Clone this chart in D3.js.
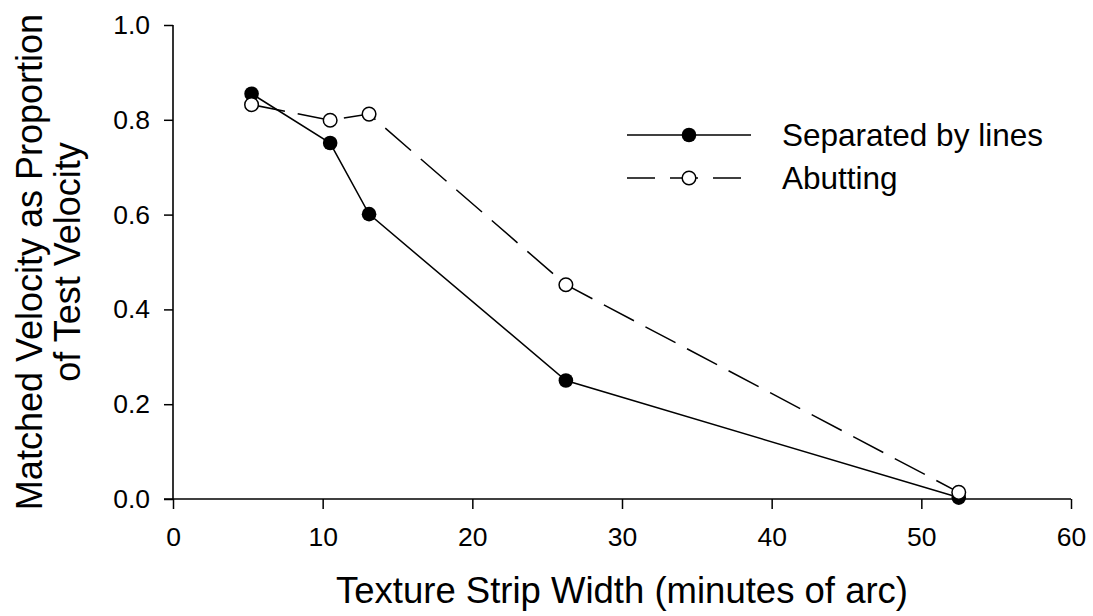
<!DOCTYPE html>
<html>
<head>
<meta charset="utf-8">
<script src="https://cdn.jsdelivr.net/npm/d3@7"></script>
<style>
  body { margin: 0; background: #fff; }
  svg { display: block; font-family: Arial, "Liberation Sans", sans-serif; }
</style>
</head>
<body>
<svg width="1093" height="616"></svg>
<script>
// Data
var stripWidth = [5.25, 10.5, 13.1, 26.25, 52.5];
var separated  = [0.855, 0.751, 0.601, 0.250, 0.003];
var abutting   = [0.832, 0.799, 0.812, 0.452, 0.014];
var xTicks = [0, 10, 20, 30, 40, 50, 60];
var yTicks = [0, 0.2, 0.4, 0.6, 0.8, 1.0];
var seriesNames = ["Separated by lines", "Abutting"];

var svg = d3.select("svg"),
    margin = {top: 25, right: 22, bottom: 117, left: 173},
    width = +svg.attr("width") - margin.left - margin.right,
    height = +svg.attr("height") - margin.top - margin.bottom;

var g = svg.append("g")
    .attr("transform", "translate(" + margin.left + "," + margin.top + ")");

var x = d3.scaleLinear().domain([0, 60]).range([0, width]);
var y = d3.scaleLinear().domain([0, 1]).range([height, 0]);

var line = d3.line()
    .x(function(d) { return x(d[0]); })
    .y(function(d) { return y(d[1]); });

// axes
var xAxis = g.append("g")
    .attr("transform", "translate(0," + height + ")")
    .call(d3.axisBottom(x).tickValues(xTicks).tickSize(10).tickPadding(18)
          .tickFormat(d3.format("d")));
var yAxis = g.append("g")
    .call(d3.axisLeft(y).tickValues(yTicks).tickSize(9).tickPadding(14)
          .tickFormat(d3.format(".1f")));

[xAxis, yAxis].forEach(function(a) {
  a.selectAll(".domain").attr("stroke-width", 1.6);
  a.selectAll("line").attr("stroke-width", 1.5);
  a.selectAll("text").style("font-size", "26.5px").attr("fill", "#000");
});
// axis lines without end caps
xAxis.select(".domain").attr("d", "M" + (-9) + ",0H" + width);
yAxis.select(".domain").attr("d", "M0," + height + "V0");

// series lines
var sepData = stripWidth.map(function(v, i) { return [v, separated[i]]; });
var abuData = stripWidth.map(function(v, i) { return [v, abutting[i]]; });

g.append("path")
  .datum(abuData)
  .attr("d", line)
  .attr("fill", "none")
  .attr("stroke", "#000")
  .attr("stroke-width", 1.5)
  .attr("stroke-dasharray", "34,13");

g.append("path")
  .datum(sepData)
  .attr("d", line)
  .attr("fill", "none")
  .attr("stroke", "#000")
  .attr("stroke-width", 1.5);

g.selectAll(".sep")
  .data(sepData)
  .enter().append("circle")
    .attr("class", "sep")
    .attr("cx", function(d) { return x(d[0]); })
    .attr("cy", function(d) { return y(d[1]); })
    .attr("r", 7.3)
    .attr("fill", "#000");

g.selectAll(".abu")
  .data(abuData)
  .enter().append("circle")
    .attr("class", "abu")
    .attr("cx", function(d) { return x(d[0]); })
    .attr("cy", function(d) { return y(d[1]); })
    .attr("r", 6.8)
    .attr("fill", "#fff")
    .attr("stroke", "#000")
    .attr("stroke-width", 1.5);

// legend
var legend = svg.append("g");
var legY = [135, 178];
legend.append("line")
  .attr("x1", 627).attr("x2", 751).attr("y1", legY[0]).attr("y2", legY[0])
  .attr("stroke", "#000").attr("stroke-width", 1.5);
legend.append("circle")
  .attr("cx", 689).attr("cy", legY[0]).attr("r", 7.3).attr("fill", "#000");
legend.append("line")
  .attr("x1", 627).attr("x2", 751).attr("y1", legY[1]).attr("y2", legY[1])
  .attr("stroke", "#000").attr("stroke-width", 1.5)
  .attr("stroke-dasharray", "28,15");
legend.append("circle")
  .attr("cx", 689).attr("cy", legY[1]).attr("r", 6.8)
  .attr("fill", "#fff").attr("stroke", "#000").attr("stroke-width", 1.5);
legend.selectAll("text")
  .data(seriesNames)
  .enter().append("text")
    .attr("x", 782)
    .attr("y", function(d, i) { return legY[i] + 11; })
    .style("font-size", "31.5px")
    .text(function(d) { return d; });

// axis titles
svg.append("text")
  .attr("x", margin.left + width / 2)
  .attr("y", 603)
  .attr("text-anchor", "middle")
  .style("font-size", "36.5px")
  .text("Texture Strip Width (minutes of arc)");

var yTitle = svg.append("text")
  .attr("transform", "translate(0," + (margin.top + height / 2) + ") rotate(-90)")
  .attr("text-anchor", "middle")
  .style("font-size", "36px");
yTitle.append("tspan").attr("x", 0).attr("y", 42).text("Matched Velocity as Proportion");
yTitle.append("tspan").attr("x", 0).attr("y", 80).text("of Test Velocity");
</script>
</body>
</html>
